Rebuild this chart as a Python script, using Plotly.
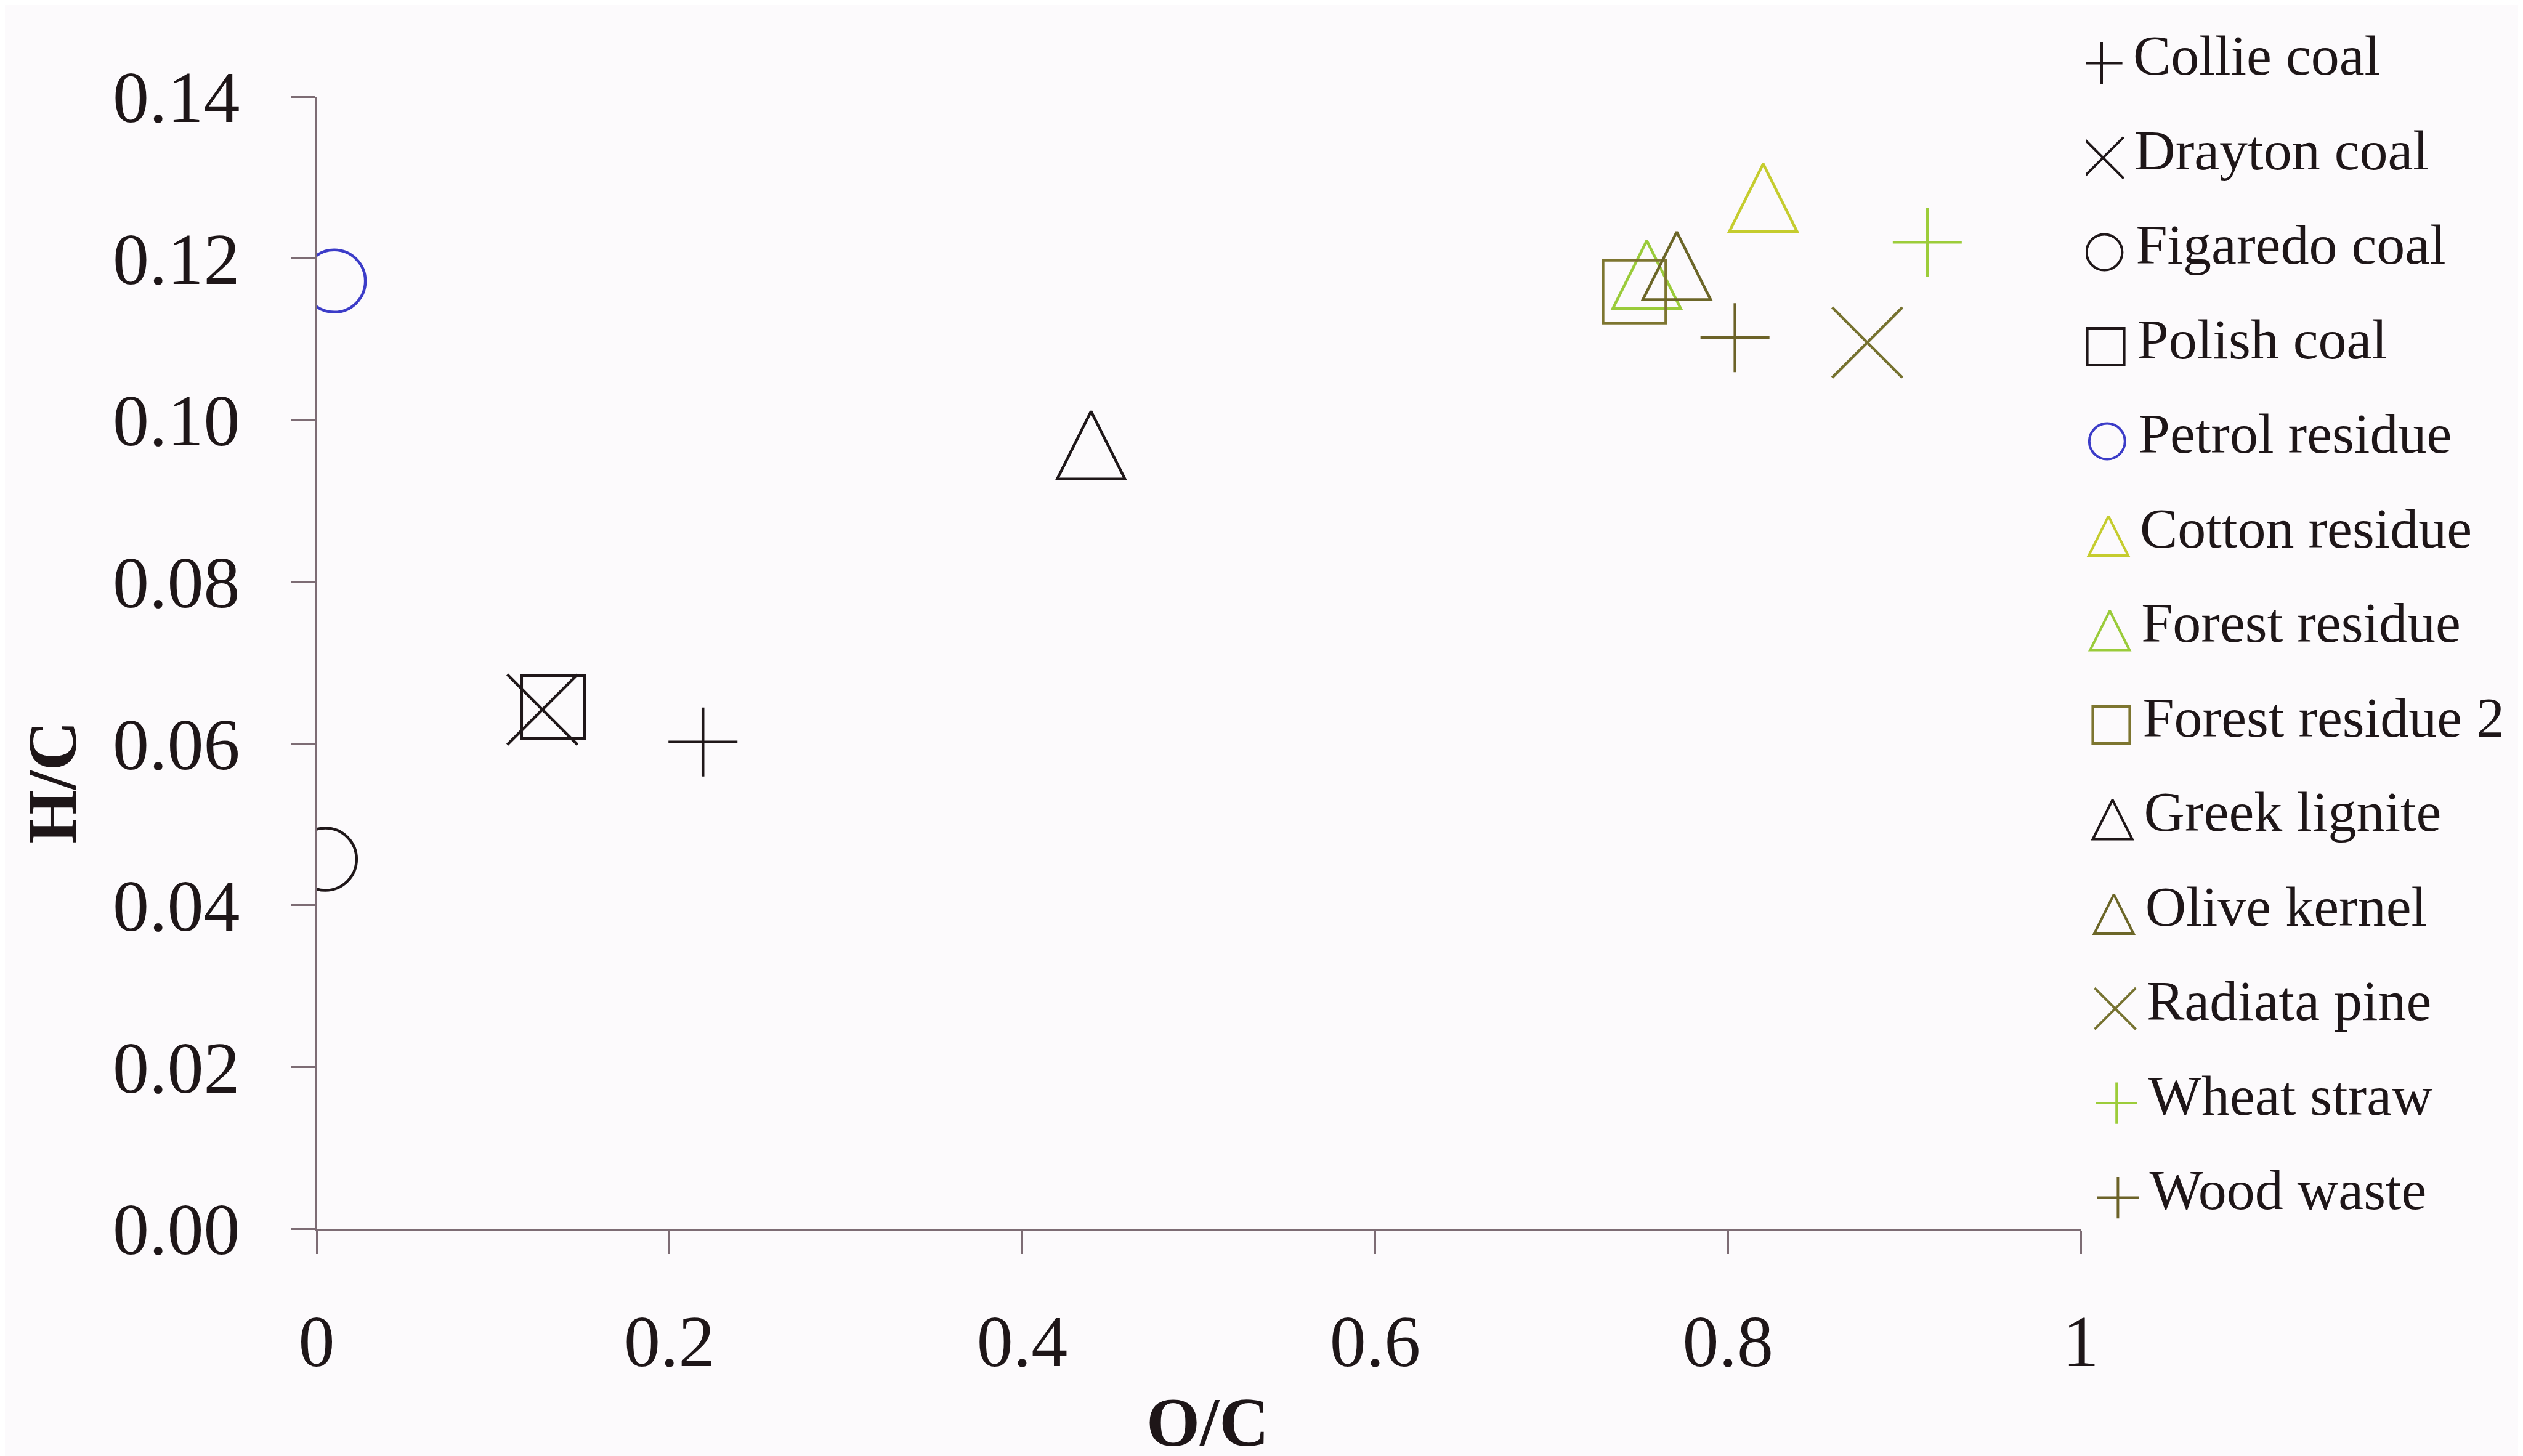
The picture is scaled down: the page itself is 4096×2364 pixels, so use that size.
import plotly.graph_objects as go

# ---------------- data ----------------
materials = ["Collie coal", "Drayton coal", "Figaredo coal", "Polish coal", "Petrol residue",
             "Cotton residue", "Forest residue", "Forest residue 2", "Greek lignite",
             "Olive kernel", "Radiata pine", "Wheat straw", "Wood waste"]
o_c = [0.219, 0.128, 0.005, 0.134, 0.010, 0.820, 0.754, 0.747, 0.439, 0.771, 0.879, 0.913, 0.804]
h_c = [0.0602, 0.0642, 0.0457, 0.0645, 0.1172, 0.1275, 0.1180, 0.1159, 0.0969, 0.1191, 0.1096, 0.1220, 0.1102]

x_tick_vals = [0, 0.2, 0.4, 0.6, 0.8, 1]
x_tick_text = ["0", "0.2", "0.4", "0.6", "0.8", "1"]
y_tick_vals = [0.00, 0.02, 0.04, 0.06, 0.08, 0.10, 0.12, 0.14]
y_tick_text = ["0.00", "0.02", "0.04", "0.06", "0.08", "0.10", "0.12", "0.14"]

# ---------------- styles ----------------
kinds = ["cross", "x", "circle", "square", "circle", "triangle", "triangle", "square",
         "triangle", "triangle", "x", "cross", "cross"]
colors = ["#1f1719", "#1f1719", "#1f1719", "#1f1719", "#3c3cc8", "#c5cc2e", "#9acb3a",
          "#7d7530", "#1f1719", "#6c6628", "#767230", "#9ccc3a", "#6c6228"]

SYMBOL = {"cross": "cross-thin-open", "x": "x-thin-open", "circle": "circle-open",
          "square": "square-open", "triangle": "arrow-down-open"}
MAIN_SIZE = {"cross": 80, "x": 114, "circle": 101, "square": 102, "triangle": 110}
LEG_SIZE = {"cross": 48, "x": 67, "circle": 58, "square": 60, "triangle": 64}

FONT = "Liberation Serif"
TXT = "#1e1618"
AXC = "#7d6c74"
BG = "#fcfafc"

W, H = 4096, 2364
L, B = 506, 377
PW, PH = W - L, H - B
main_w, main_top = 2864, 149
ROW0, ROWSTEP = 90, 153.5

fig = go.Figure()


def marker(kind, color, size, lw):
    m = dict(symbol=SYMBOL[kind], size=size, color=color,
             line=dict(color=color, width=lw))
    if kind == "triangle":
        m["angle"] = 180
        m["standoff"] = size / 2
    return m


for i, name in enumerate(materials):
    fig.add_trace(go.Scatter(
        x=[o_c[i]], y=[h_c[i]], mode="markers", name=name, showlegend=False,
        marker=marker(kinds[i], colors[i], MAIN_SIZE[kinds[i]], 4.5),
        xaxis="x", yaxis="y"))

# custom legend (drawn on a hidden pixel-scaled axis pair at the right)
LEG_SYM_X = 26
LEG_TXT_X = 77
LEG_SLANT = 2.2
rows = list(range(len(materials)))
for i, name in enumerate(materials):
    fig.add_trace(go.Scatter(
        x=[LEG_SYM_X + LEG_SLANT * i], y=[rows[i] + 0.03], mode="markers", showlegend=False,
        marker=marker(kinds[i], colors[i], LEG_SIZE[kinds[i]], 4),
        xaxis="x2", yaxis="y2", hoverinfo="skip"))
fig.add_trace(go.Scatter(
    x=[LEG_TXT_X + LEG_SLANT * i for i in rows], y=rows, mode="text", text=materials,
    textposition="middle right", showlegend=False, cliponaxis=False,
    textfont=dict(family=FONT, size=92, color=TXT),
    xaxis="x2", yaxis="y2", hoverinfo="skip"))

axis_common = dict(showline=True, linecolor=AXC, linewidth=2.8, ticks="outside",
                   ticklen=38, tickwidth=2.8, tickcolor=AXC, showgrid=False, zeroline=False,
                   automargin=False,
                   tickfont=dict(family=FONT, size=118, color=TXT))

fig.update_layout(
    width=W, height=H,
    margin=dict(l=L, r=0, t=0, b=B, pad=0, autoexpand=False),
    paper_bgcolor=BG, plot_bgcolor=BG,
    showlegend=False,
    xaxis=dict(domain=[0, main_w / PW], range=[0, 1], tickvals=x_tick_vals,
               ticktext=x_tick_text, anchor="y", ticklabelstandoff=40, **axis_common),
    yaxis=dict(domain=[0, (PH - main_top) / PH], range=[0, 0.14], tickvals=y_tick_vals,
               ticktext=y_tick_text, anchor="x", ticklabelstandoff=60, **axis_common),
    xaxis2=dict(domain=[0.8, 1.0], range=[0, 0.2 * PW], visible=False, anchor="y2"),
    yaxis2=dict(domain=[0, 1], range=[(PH - ROW0) / ROWSTEP, -ROW0 / ROWSTEP], visible=False,
                anchor="x2"),
    annotations=[
        dict(text="<b>O/C</b>", xref="paper", yref="paper", x=0.403, y=-0.126,
             xanchor="center", yanchor="top", showarrow=False,
             font=dict(family=FONT, size=112, color=TXT)),
        dict(text="<b>H/C</b>", xref="paper", yref="paper", x=-0.1195, y=0.365,
             xanchor="center", yanchor="middle", showarrow=False, textangle=-90,
             font=dict(family=FONT, size=112, color=TXT)),
    ],
)

fig.write_html("out.html")
